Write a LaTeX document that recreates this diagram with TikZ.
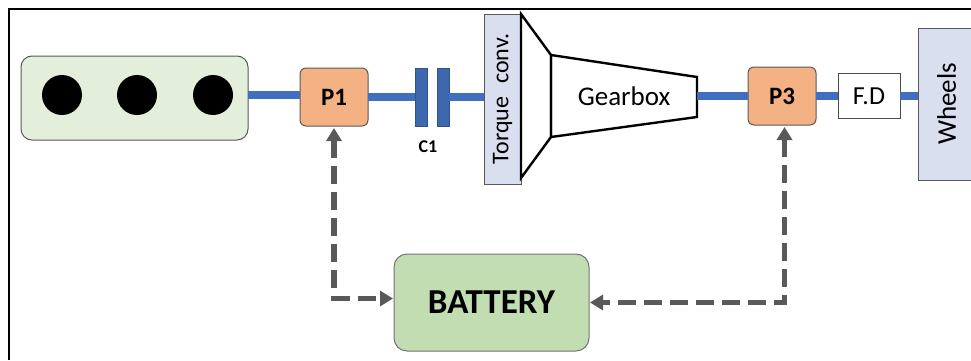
\documentclass[tikz,border=0pt]{standalone}
\usepackage{fontspec}
\setmainfont{Carlito}
\usetikzlibrary{positioning,arrows.meta}
\definecolor{shaftblue}{HTML}{3F6FBE}
\definecolor{platesblue}{HTML}{3D68AE}
\definecolor{engfill}{HTML}{E3EFDA}
\definecolor{batfill}{HTML}{C3DDB3}
\definecolor{motorfill}{HTML}{F4B183}
\definecolor{convfill}{HTML}{D9DFEE}
\definecolor{linkgray}{HTML}{595959}
\begin{document}
\begin{tikzpicture}[x=1pt, y=1pt, outer sep=0pt]
% Styles
\tikzstyle{motor} = [rectangle, draw=black!65, fill=motorfill, rounded corners=6pt, line width=1pt, minimum width=68pt, minimum height=58pt, font=\fontsize{25}{28}\selectfont\bfseries]
\tikzstyle{cyl} = [circle, fill=black, minimum size=40pt, inner sep=0pt]
\tikzstyle{plate} = [rectangle, fill=platesblue, draw=platesblue!80!black, minimum width=12pt, minimum height=58pt, inner sep=0pt]
\tikzstyle{panel} = [rectangle, draw=black!65, fill=convfill, line width=1pt, inner sep=0pt]
\tikzstyle{shaft} = [line width=7.5pt, shaftblue]
\tikzstyle{link} = [line width=5.5pt, linkgray, dash pattern=on 18pt off 8pt, {Triangle[length=13pt,width=15pt]}-{Triangle[length=13pt,width=15pt]}, shorten <=2pt, shorten >=1pt]
\tikzstyle{casing} = [draw=black, line width=2.4pt, line join=miter]

\useasboundingbox (0,0) rectangle (971,360);
\draw [line width=2pt] (8.5,0) -- (8.5,351) -- (971,351);

% Nodes
\node (engine) [rectangle, draw=black!65, fill=engfill, rounded corners=11pt, line width=1pt, minimum width=227pt, minimum height=84pt] at (134.5,262) {};
\node (cyla) [cyl] at (62,265) {};
\node (cylb) [cyl, right=35pt of cyla] {};
\node (cylc) [cyl, right=36pt of cylb] {};
\node (pa) [motor, right=52pt of engine, yshift=1pt] {P1};
\node (clutcha) [plate, right=47pt of pa] {};
\node (clutchb) [plate, right=10pt of clutcha] {};
\node (clabel) [below=15pt of clutcha.south east, xshift=1pt, font=\fontsize{18}{20}\selectfont\bfseries, inner sep=0pt] {C1};
\node (conv) [panel, right=35pt of clutchb, yshift=-2pt, minimum width=37pt, minimum height=170pt] {\rotatebox{90}{\fontsize{24}{26}\selectfont Torque\hspace{13pt}conv.}};
\node (gear) [right=30pt of conv, yshift=3pt, minimum width=146pt, minimum height=82pt, inner sep=0pt, font=\fontsize{27}{30}\selectfont] {Gearbox};
\node (pc) [motor, right=51pt of gear] {P3};
\node (fd) [rectangle, draw=black!70, fill=white, line width=1pt, right=22pt of pc, minimum width=62pt, minimum height=45pt, font=\fontsize{26}{30}\selectfont] {F.D};
\node (wheels) [panel, right=18pt of fd, yshift=-8pt, minimum width=57pt, minimum height=152pt] {\rotatebox{90}{\fontsize{27}{30}\selectfont Wheels}};
\node (bat) [rectangle, draw=black!55, fill=batfill, rounded corners=13pt, line width=1pt, minimum width=195pt, minimum height=97pt, font=\fontsize{35}{40}\selectfont\bfseries] at (491.5,57.5) {\raisebox{-3pt}{BATTERY}};

% Casing
\draw [casing] (conv.north east) -- (gear.north west) -- (gear.south west) -- ([yshift=6pt]conv.south east) -- cycle;
\draw [casing] (gear.north west) -- ([yshift=-22pt]gear.north east) -- ([yshift=20pt]gear.south east) -- (gear.south west) -- cycle;

% Shafts
\draw [shaft] ([yshift=2pt]engine.east |- pa.west) -- ([yshift=2pt]pa.west);
\draw [shaft] (pa.east) -- (clutcha.west);
\draw [shaft] (clutchb.east) -- (conv.west |- clutchb);
\draw [shaft] (gear.east) -- (pc.west);
\draw [shaft] (pc.east) -- (fd.west);
\draw [shaft] (fd.east) -- (wheels.west |- fd);

% Arrows
\draw [link] (pa.south) |- ([yshift=4pt]bat.west);
\draw [link] ([xshift=2.5pt]pc.south) |- (bat.east);
\end{tikzpicture}
\end{document}
